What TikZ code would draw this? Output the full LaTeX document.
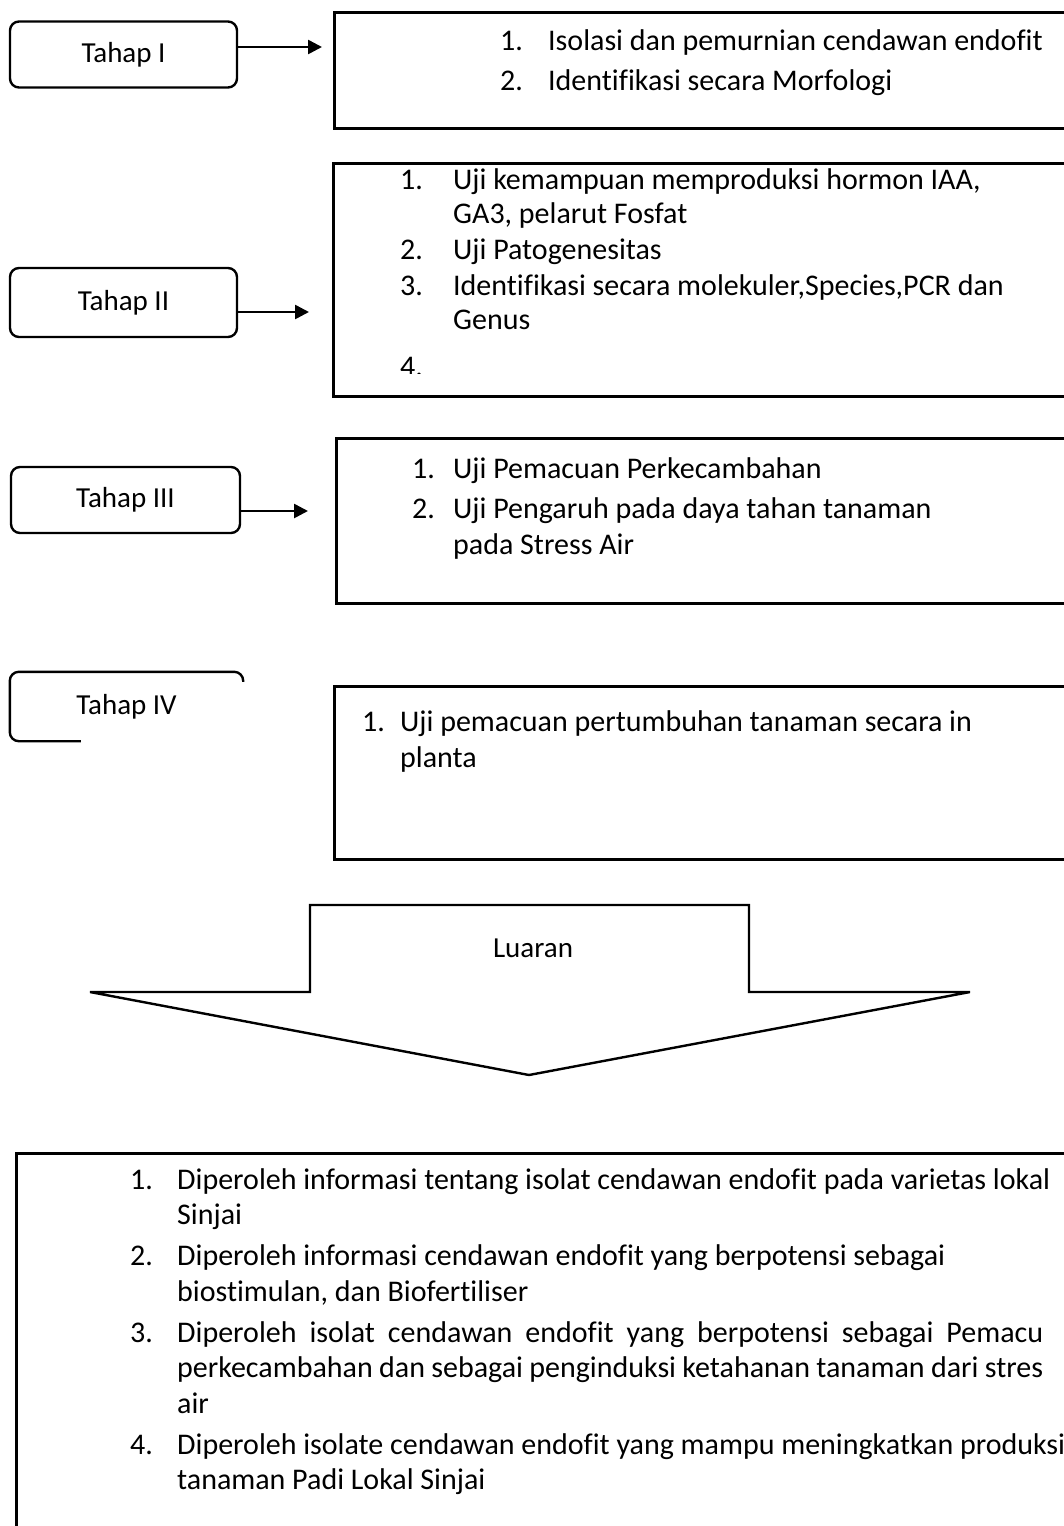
\documentclass[tikz,border=0pt]{standalone}
\usepackage{fontspec}
\setmainfont{Carlito}[Ligatures=CommonOff]
\usetikzlibrary{arrows.meta}

\begin{document}
\begin{tikzpicture}[x=1pt,y=-1pt]
\tikzset{tahap/.style={draw,line width=2.4pt,rounded corners=9pt,minimum width=227pt,minimum height=66pt,inner sep=0pt,font=\fontsize{29}{35}\selectfont}}
\tikzset{kotak/.style={draw,line width=2.6pt,anchor=north west,inner sep=0pt}}
\tikzset{isi/.style={anchor=north west,align=left,inner sep=0pt,font=\fontsize{30}{36}\selectfont}}
\tikzset{panah/.style={line width=2.6pt,-{Triangle[length=14pt,width=14pt]}}}
\newcommand{\nomor}[2]{\rule{0pt}{24pt}\makebox[#1][l]{#2}}

\useasboundingbox (0,0) rectangle (1064,1526);
\clip (0,0) rectangle (1064,1526);

% tahap
\node[tahap] (t1) at (123.5,54.5) {Tahap I};
\node[tahap,minimum height=69pt] (t2) at (123.5,302.5) {Tahap II};
\node[tahap,minimum width=229pt] (t3) at (125.5,500) {Tahap III};
\node[tahap,draw=none,minimum width=231pt,minimum height=67pt] (t4) at (126.5,706.5) {Tahap IV};
\draw[line width=2.4pt,rounded corners=9pt] ([xshift=71pt]t4.south west) -- (t4.south west) -- (t4.north west) -- (t4.north east) -- ([yshift=-10pt]t4.north east);

% kotak isi
\node[kotak,minimum width=760pt,minimum height=116pt] (b1) at (333,11) {};
\node[kotak,minimum width=760pt,minimum height=233pt] (b2) at (332,162) {};
\node[kotak,minimum width=760pt,minimum height=165pt] (b3) at (335,437) {};
\node[kotak,minimum width=760pt,minimum height=173pt] (b4) at (333,685) {};
\node[kotak,minimum width=1070pt,minimum height=400pt] (b5) at (15,1152) {};

% panah
\coordinate (a1) at ([yshift=7.5pt]t1.east);
\coordinate (a2) at ([yshift=-9.5pt]t2.east);
\coordinate (a3) at ([yshift=-11pt]t3.east);
\draw[panah,shorten >=11pt] (a1) -- (a1 -| b1.west);
\draw[panah,shorten >=23pt] (a2) -- (a2 -| b2.west);
\draw[panah,shorten >=27pt] (a3) -- (a3 -| b3.west);

\node[isi] (s1) at (500,26) {\nomor{48pt}{1.}Isolasi dan pemurnian cendawan endofit\\[4pt]
  \nomor{48pt}{2.}Identifikasi secara Morfologi};

\begin{scope}
\clip (b2.north west) rectangle ([yshift=24pt]b2.south east);
\node[isi,font=\fontsize{30}{34}\selectfont] (s2) at (400,165) {\nomor{53pt}{1.}Uji kemampuan memproduksi hormon IAA,\\
  \hspace*{53pt}GA3, pelarut Fosfat\\[2pt]
  \nomor{53pt}{2.}Uji Patogenesitas\\[2pt]
  \nomor{53pt}{3.}Identifikasi secara molekuler,Species,PCR dan\\
  \hspace*{53pt}Genus\\[13pt]
  4.};
\end{scope}

\node[isi] (s3) at (412,454) {\nomor{41pt}{1.}Uji Pemacuan Perkecambahan\\[4pt]
  \nomor{41pt}{2.}Uji Pengaruh pada daya tahan tanaman\\
  \hspace*{41pt}pada Stress Air};

\node[isi] (s4) at (362,707) {\nomor{38pt}{1.}Uji pemacuan pertumbuhan tanaman secara in\\
  \hspace*{38pt}planta};

% luaran
\draw[line width=2.4pt] (310,905) -- (749,905) -- (749,992) -- (970,992) -- (529,1075) -- (90,992) -- (310,992) -- cycle;
\node[font=\fontsize{29}{35}\selectfont] (luaran) at (533,948) {Luaran};

\node[isi,font=\fontsize{30}{35.5}\selectfont] (s5) at (130,1165) {\nomor{47pt}{1.}Diperoleh informasi tentang isolat cendawan endofit pada varietas lokal\\
  \hspace*{47pt}Sinjai\\[5.5pt]
  \nomor{47pt}{2.}Diperoleh informasi cendawan endofit yang berpotensi sebagai\\
  \hspace*{47pt}biostimulan, dan Biofertiliser\\[5.5pt]
  \nomor{47pt}{3.}\makebox[866pt][s]{Diperoleh isolat cendawan endofit yang berpotensi sebagai Pemacu}\\
  \hspace*{47pt}\makebox[866pt][s]{perkecambahan dan sebagai penginduksi ketahanan tanaman dari stres}\\
  \hspace*{47pt}air\\[5.5pt]
  \nomor{47pt}{4.}Diperoleh isolate cendawan endofit yang mampu meningkatkan produksi\\
  \hspace*{47pt}tanaman Padi Lokal Sinjai};
\end{tikzpicture}
\end{document}
